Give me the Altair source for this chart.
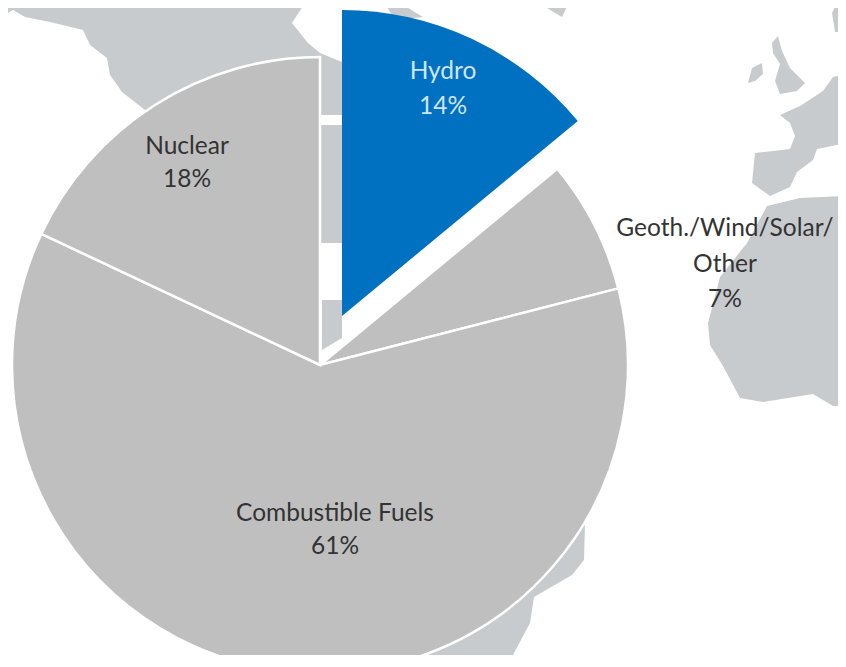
import altair as alt
import pandas as pd

# Pie shares
categories = ["Hydro", "Geoth./Wind/Solar/Other", "Combustible Fuels", "Nuclear"]
shares = [14, 7, 61, 18]

# Background map outlines
north_america = [(0,0),(307,0),(292,23),(308,43),(320,53),(337,60),(342,62),(342,115),(320,115),(320,125),(342,125),(342,243),(320,243),(320,365),(145,110),(122,92),(110,75),(107,58),(90,45),(83,30),(50,22),(25,17),(13,10),(0,18)]
central_america = [(322,300),(342,300),(342,338),(322,350)]
ireland = [(748,83),(752,68),(762,63),(763,74),(755,81)]
britain = [(772,43),(778,36),(782,51),(790,68),(805,83),(797,91),(780,94),(775,81),(780,64),(773,53)]
scandinavia = [(832,13),(837,2),(846,0),(846,32),(835,32)]
europe = [(780,115),(800,106),(823,91),(833,77),(846,74),(846,143),(817,149),(813,160),(797,172),(790,187),(770,196),(752,183),(755,153),(790,149),(795,136),(790,123)]
africa = [(767,206),(800,198),(846,196),(846,406),(833,406),(813,394),(763,402),(740,398),(723,366),(710,345),(708,323),(720,277),(747,243)]
south_america = [(585,523),(584,560),(572,575),(534,597),(530,623),(513,655),(490,655),(492,667),(410,667),(400,600)]
greenland = [(533,0),(570,0),(562,17),(547,8)]
arctic = [(387,7),(400,3),(423,17),(395,20)]
lands = [north_america, central_america, ireland, britain, scandinavia, europe, africa, south_america, greenland, arctic]

features = [
    {"type": "Feature", "properties": {},
     "geometry": {"type": "Polygon", "coordinates": [[list(p) for p in land] + [list(land[0])]]}}
    for land in lands
]

starts, ends, total = [], [], 0
for s in shares:
    starts.append(total)
    total += s
    ends.append(total)
pie = pd.DataFrame({"category": categories, "start": starts, "end": ends})

theta_scale = alt.Scale(domain=[0, 100], range=[0, 6.283185307])

land_layer = alt.Chart(alt.Data(values=features)).mark_geoshape(
    fill="#C8CBCE", stroke=None
).project(type="identity", scale=1, translate=[-8, -8])

grey_slices = alt.Chart(pie[pie.category != "Hydro"]).mark_arc(
    outerRadius=308, fill="#BFBFBF", stroke="white", strokeWidth=2.5
).encode(
    theta=alt.Theta("start:Q", scale=theta_scale),
    theta2="end:Q",
    x=alt.value(312),
    y=alt.value(357),
)

hydro_slice = alt.Chart(pie[pie.category == "Hydro"]).mark_arc(
    outerRadius=306, fill="#0070C0"
).encode(
    theta=alt.Theta("start:Q", scale=theta_scale),
    theta2="end:Q",
    x=alt.value(334),
    y=alt.value(308),
)


def label(text, cx, cy, color="#333333"):
    return alt.Chart(pd.DataFrame({"t": [text]})).mark_text(
        font="Lato", fontSize=24.5, color=color, align="center", baseline="middle"
    ).encode(text="t:N", x=alt.value(cx - 8), y=alt.value(cy - 8))


texts = [
    label("Hydro", 443, 72, "#CFE6FA"),
    label("14%", 443, 107, "#CFE6FA"),
    label("Nuclear", 187, 147),
    label("18%", 187, 180),
    label("Geoth./Wind/Solar/", 725, 229),
    label("Other", 725, 265),
    label("7%", 725, 300),
    label("Combustible Fuels", 335, 514),
    label("61%", 335, 547),
]

chart = alt.layer(land_layer, grey_slices, hydro_slice, *texts).resolve_scale(
    theta="independent"
).properties(
    width=830, height=647, padding=0, autosize=alt.AutoSizeParams(type="none"),
    background="white",
).configure_view(stroke=None)

chart.save("out.html", embed_options={"renderer": "svg", "actions": False})
